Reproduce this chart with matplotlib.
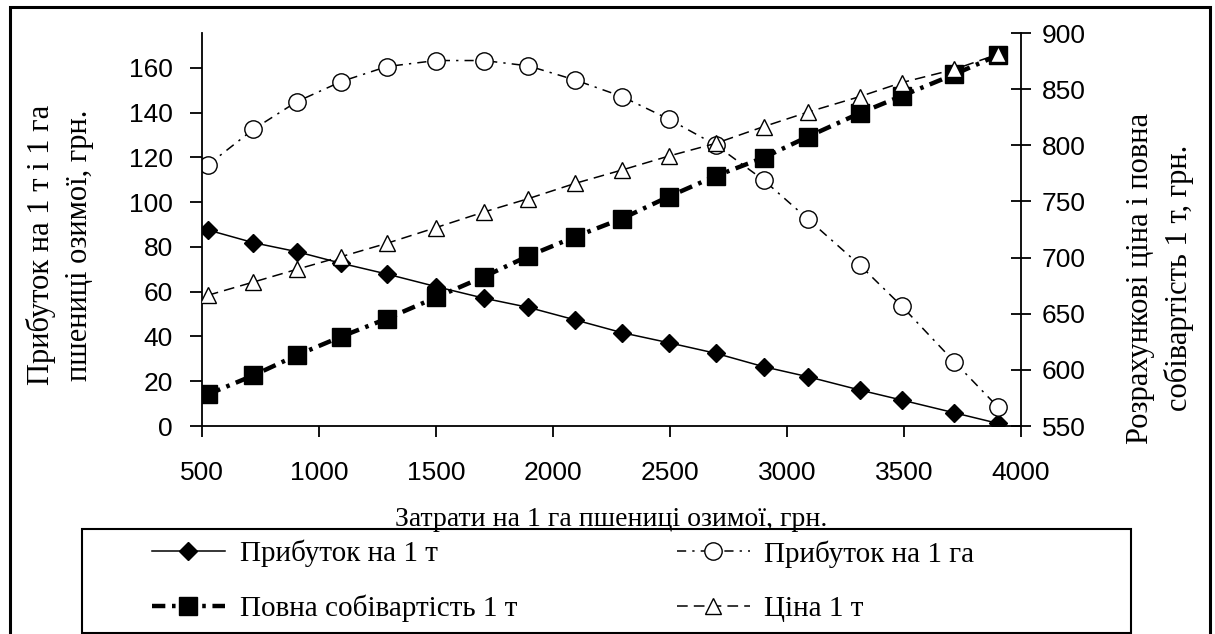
import matplotlib
matplotlib.use("Agg")
import matplotlib.pyplot as plt
from matplotlib.patches import Rectangle

# values
costs_ha = [525, 720, 905, 1095, 1290, 1500, 1705, 1895, 2095,
            2295, 2495, 2695, 2900, 3090, 3310, 3490, 3715, 3900]
profit_t = [87.6, 81.9, 77.9, 72.7, 67.9, 62.3, 57.1, 53.0, 47.4,
            41.7, 37.2, 32.5, 26.5, 22.0, 16.1, 11.6, 5.9, 1.2]
profit_ha = [116.6, 132.6, 144.9, 153.9, 160.6, 163.3, 163.3, 160.9, 154.6,
             147.2, 137.1, 125.6, 109.9, 92.4, 72.0, 53.6, 28.7, 8.6]
full_cost_t = [578.2, 595.1, 613.0, 629.6, 645.6, 664.5, 683.0, 701.4, 718.6,
               734.7, 754.3, 772.6, 789.0, 807.7, 828.5, 843.9, 863.2, 880.1]
price_t = [666.4, 678.2, 689.5, 700.8, 712.7, 726.7, 740.6, 752.5, 766.1,
           778.0, 790.4, 801.7, 816.6, 829.6, 843.3, 855.8, 867.6, 881.0]

x_ticks = [500, 1000, 1500, 2000, 2500, 3000, 3500, 4000]
left_ticks = [0, 20, 40, 60, 80, 100, 120, 140, 160]
right_ticks = [550, 600, 650, 700, 750, 800, 850, 900]

serif = ["Liberation Serif", "DejaVu Serif"]
sans = ["Liberation Sans", "DejaVu Sans"]

W, H = 1215, 634
fig = plt.figure(figsize=(W / 100, H / 100), dpi=100)
ax = fig.add_axes([202 / W, 1 - 426 / H, 819 / W, 393 / H])
ax2 = ax.twinx()

# left axis series
l1, = ax.plot(costs_ha, profit_t, color="black", lw=1.1, marker="D",
              markersize=9, markerfacecolor="black", label="Прибуток на 1 т")
l2, = ax.plot(costs_ha, profit_ha, color="black", lw=1.1,
              linestyle=(0, (6, 4, 1.5, 4)), marker="o", markersize=12.5,
              markerfacecolor="white", markeredgewidth=1.0,
              label="Прибуток на 1 га")

# right axis series
l3, = ax2.plot(costs_ha, full_cost_t, color="black", lw=3.2,
               linestyle=(0, (3, 1.5, 0.8, 1.5)), marker="s", markersize=12.5,
               markerfacecolor="black", label="Повна собівартість 1 т")
l4, = ax2.plot(costs_ha, price_t, color="black", lw=1.1,
               linestyle=(0, (7, 4)), marker="^", markersize=11,
               markerfacecolor="white", markeredgewidth=1.0, label="Ціна 1 т")

ax.set_xlim(500, 4000)
ax.set_ylim(0, 175.6)
ax2.set_ylim(550, 900)
ax.set_xticks(x_ticks)
ax.set_yticks(left_ticks)
ax2.set_yticks(right_ticks)

for a in (ax, ax2):
    a.spines["top"].set_visible(False)
    for s in a.spines.values():
        s.set_linewidth(1.3)
ax.spines["right"].set_visible(False)
ax2.spines["left"].set_visible(False)
ax2.spines["bottom"].set_visible(False)

ax.tick_params(axis="x", direction="out", length=8, width=1.3, pad=17)
ax.tick_params(axis="y", direction="out", length=9, width=1.3, pad=12)
ax2.tick_params(axis="y", direction="inout", length=14, width=1.3, pad=8)
for lab in ax.get_xticklabels() + ax.get_yticklabels() + ax2.get_yticklabels():
    lab.set_fontfamily(sans)
    lab.set_fontsize(19)

ax.set_xlabel("Затрати на 1 га пшениці озимої, грн.", family=serif,
              fontsize=20, va="center")
ax.xaxis.set_label_coords(0.5, (426 - 520) / 393)
ax.set_ylabel("Прибуток на 1 т і 1 га\nпшениці озимої, грн.", family=serif,
              fontsize=22, linespacing=1.4, va="center", ha="center")
ax.yaxis.set_label_coords((60 - 202) / 819, (426 - 245) / 393)
ax2.set_ylabel("Розрахункові ціна і повна\nсобівартість 1 т, грн.",
               family=serif, fontsize=22, linespacing=1.4, va="center",
               ha="center", rotation=90)
ax2.yaxis.set_label_coords((1160 - 202) / 819, (426 - 278) / 393)

# legend: two columns inside a framed box
leg_kw = dict(frameon=False, loc="center left", borderpad=0, borderaxespad=0,
              handlelength=2.5, handletextpad=0.5, labelspacing=0.95,
              numpoints=1, prop={"family": serif, "size": 21})
leg1 = fig.legend([l1, l3], [l1.get_label(), l3.get_label()],
                  bbox_to_anchor=(152 / W, 1 - 581 / H), **leg_kw)
leg2 = fig.legend([l2, l4], [l2.get_label(), l4.get_label()],
                  bbox_to_anchor=(677 / W, 1 - 581 / H), **leg_kw)

fig.patches.append(Rectangle((82 / W, 1 - 633 / H), (1131 - 82) / W,
                             (633 - 529) / H, transform=fig.transFigure,
                             fill=False, lw=1.5, edgecolor="black"))
fig.patches.append(Rectangle((10 / W, -10 / H), 1200 / W, (627 + 10) / H,
                             transform=fig.transFigure, fill=False, lw=2.2,
                             edgecolor="black"))

fig.savefig("out.png", dpi=100)
